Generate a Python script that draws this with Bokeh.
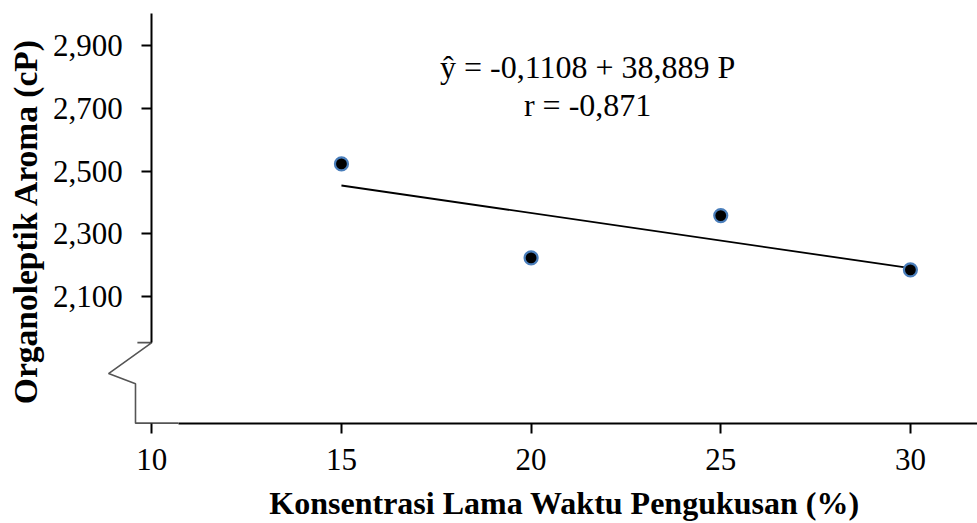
import numpy as np
from bokeh.plotting import figure
from bokeh.models import LinearAxis, FixedTicker, CustomJSTickFormatter, Range1d, Label
from bokeh.embed import file_html
from bokeh.resources import INLINE

# ---- data ----
konsentrasi = [15, 20, 25, 30]
aroma = [2.523, 2.223, 2.358, 2.185]
x_ticks = [10, 15, 20, 25, 30]
y_ticks = [2.1, 2.3, 2.5, 2.7, 2.9]
equation_text = "ŷ = -0,1108 + 38,889 P"
r_text = "r = -0,871"
x_title = "Konsentrasi Lama Waktu Pengukusan (%)"
y_title = "Organoleptik Aroma  (cP)"

FONT = "Liberation Serif"

p = figure(width=977, height=523,
           x_range=Range1d(6.011, 31.769), y_range=Range1d(1.3759, 3.0442),
           x_axis_type=None, y_axis_type=None,
           output_backend="svg", toolbar_location=None, min_border=0)
p.outline_line_color = None
p.background_fill_color = "white"
p.border_fill_color = "white"

x_axis_y = 1.696   # where the x axis sits (data units)
y_axis_x = 10      # where the y axis sits (data units)

# y axis with ticks and labels
ya = LinearAxis(fixed_location=y_axis_x, ticker=FixedTicker(ticks=y_ticks),
                formatter=CustomJSTickFormatter(code="return tick.toFixed(3).replace('.', ',')"),
                bounds=(1.954, 3.003), major_tick_out=10, major_tick_in=0,
                axis_line_width=2, major_tick_line_width=2, major_label_standoff=19,
                major_label_text_font=FONT, major_label_text_font_size="31px",
                major_label_text_color="black")
p.add_layout(ya, "left")

# y axis title holder
yl = LinearAxis(fixed_location=y_axis_x, ticker=FixedTicker(ticks=[]),
                bounds=(2.0, 2.707), axis_line_color=None, major_tick_line_color=None,
                major_tick_out=0, major_tick_in=0,
                axis_label=y_title, axis_label_standoff=108,
                axis_label_text_font=FONT, axis_label_text_font_style="bold",
                axis_label_text_font_size="33.5px", axis_label_text_color="black")
p.add_layout(yl, "left")

# x axis line + tick marks
xa = LinearAxis(fixed_location=x_axis_y, ticker=FixedTicker(ticks=x_ticks),
                formatter=CustomJSTickFormatter(code="return ''"),
                bounds=(10.70, 31.769), major_tick_out=10, major_tick_in=0,
                axis_line_width=2, major_tick_line_width=2)
p.add_layout(xa, "below")

# x tick labels + title
xl = LinearAxis(fixed_location=x_axis_y, ticker=FixedTicker(ticks=x_ticks),
                bounds=(9.99, 31.769), axis_line_color=None, major_tick_line_color=None,
                major_tick_out=10, major_tick_in=0, major_label_standoff=16,
                major_label_text_font=FONT, major_label_text_font_size="31px",
                major_label_text_color="black",
                axis_label=x_title, axis_label_standoff=11,
                axis_label_text_font=FONT, axis_label_text_font_style="bold",
                axis_label_text_font_size="32px", axis_label_text_color="black")
p.add_layout(xl, "below")

# axis break (zigzag)
break_x = [9.62, 10.0, 8.86, 9.57, 9.57, 10.70]
break_y = [1.953, 1.953, 1.854, 1.822, x_axis_y, x_axis_y]
p.line(break_x, break_y, line_color="#555555", line_width=1.6)

# regression line
slope, intercept = np.polyfit(konsentrasi, aroma, 1)
fit_x = [min(konsentrasi), max(konsentrasi)]
fit_y = [intercept + slope * v for v in fit_x]
p.line(fit_x, fit_y, line_color="black", line_width=1.8)

# points
p.scatter(konsentrasi, aroma, size=13, fill_color="black",
          line_color="#4a7ebb", line_width=2.2)

# equation text
p.add_layout(Label(x=21.49, y=2.8314, text=equation_text, text_align="center",
                   text_baseline="alphabetic", text_font=FONT,
                   text_font_size="32px", text_color="black"))
p.add_layout(Label(x=21.49, y=2.7093, text=r_text, text_align="center",
                   text_baseline="alphabetic", text_font=FONT,
                   text_font_size="32px", text_color="black"))

open("out.html", "w").write(file_html(p, INLINE))
